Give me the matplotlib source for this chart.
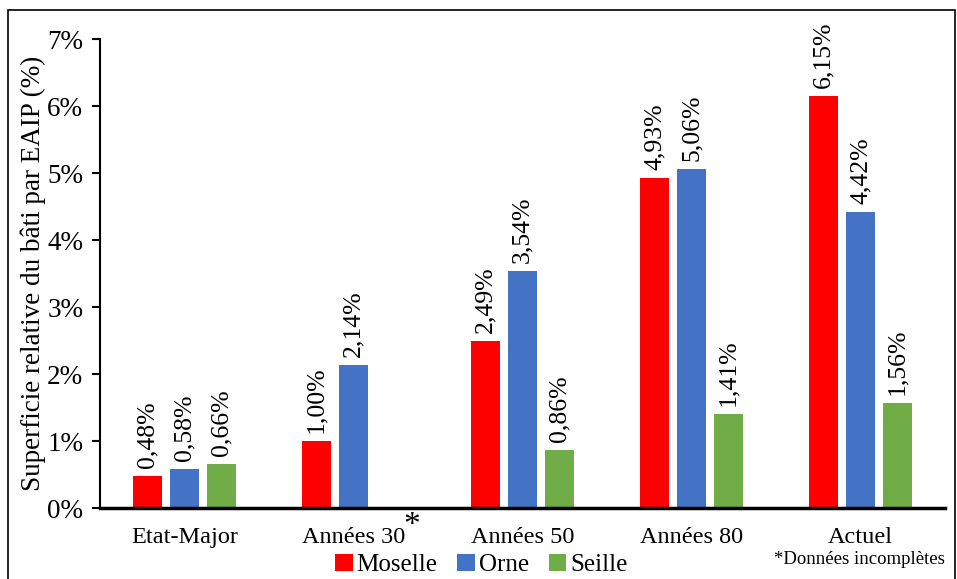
import matplotlib.pyplot as plt
import matplotlib.patches as mpatches
import numpy as np

plt.rcParams['font.family'] = ['Liberation Serif', 'DejaVu Serif']

periods = ['Etat-Major', 'Années 30', 'Années 50', 'Années 80', 'Actuel']
moselle = [0.48, 1.00, 2.49, 4.93, 6.15]
orne = [0.58, 2.14, 3.54, 5.06, 4.42]
seille = [0.66, None, 0.86, 1.41, 1.56]

series = [('Moselle', moselle, '#ff0000'),
          ('Orne', orne, '#4472c4'),
          ('Seille', seille, '#70ad47')]

fig = plt.figure(figsize=(9.57, 5.79), dpi=100)
ax = fig.add_axes([0.1045, 0.1226, 0.883, 0.81])

x = np.arange(len(periods))
w = 0.172
step = 0.219
for i, (name, vals, col) in enumerate(series):
    xs = [xx + (i - 1) * step for xx, v in zip(x, vals) if v is not None]
    ys = [v for v in vals if v is not None]
    ax.bar(xs, ys, width=w, color=col, label=name)
    for xx, v in zip(xs, ys):
        ax.text(xx, v + 0.12, f'{v:.2f}%'.replace('.', ','), rotation=90,
                ha='center', va='bottom', fontsize=18.5)

ax.set_xlim(-0.5, 4.5)
ax.set_ylim(0, 7)
ax.set_yticks(range(8))
ax.set_yticklabels([f'{i}%' for i in range(8)], fontsize=19.5)
ax.set_xticks(x)
ax.set_xticklabels(periods, fontsize=17.5)
ax.tick_params(axis='x', length=0, pad=14)
ax.tick_params(axis='y', length=6, width=1.5, pad=6)
for s in ['top', 'right']:
    ax.spines[s].set_visible(False)
ax.spines['left'].set_linewidth(1.5)
ax.spines['bottom'].set_linewidth(2.5)
ax.set_ylabel('Superficie relative du bâti par EAIP (%)', fontsize=19.5, labelpad=1)

# asterisk on Années 30
ax.annotate('*', xy=(1, 0), xycoords=('data', 'axes fraction'),
            xytext=(42, -2), textcoords='offset points', fontsize=24,
            ha='center', va='top', zorder=5)

fig.legend(loc='center', bbox_to_anchor=(0.503, 0.024), ncol=3, frameon=False,
           fontsize=18, handlelength=0.7, handleheight=0.7, handletextpad=0.15,
           columnspacing=0.8, borderaxespad=0)
fig.text(0.987, 0.033, '*Données incomplètes', ha='right', va='center', fontsize=13.5)

border = mpatches.Rectangle((8 / 957, -0.05), 947 / 957, 1.05 - 10 / 579,
                            transform=fig.transFigure, fill=False,
                            edgecolor='black', linewidth=1.2)
fig.patches.append(border)

fig.savefig('out.png', dpi=100)
